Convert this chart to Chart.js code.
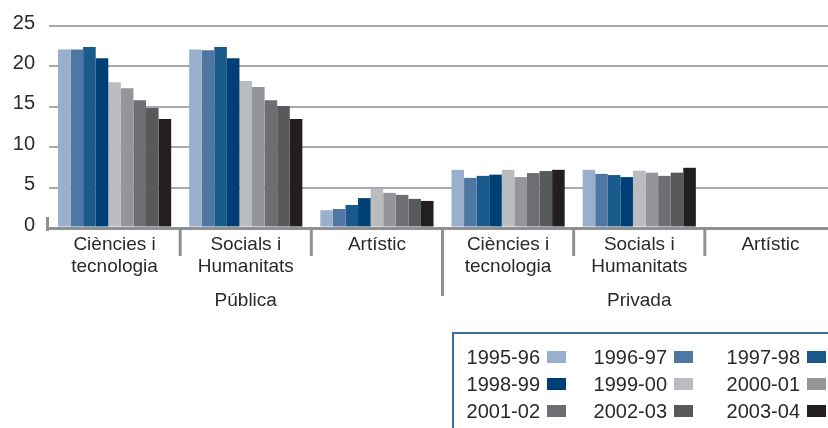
<!DOCTYPE html>
<html><head><meta charset="utf-8">
<script src="https://cdn.jsdelivr.net/npm/chart.js@4/dist/chart.umd.min.js"></script>
<style>html,body{margin:0;padding:0;background:#fff;overflow:hidden}#wrap{width:828px;height:428px;overflow:hidden;position:relative}</style>
</head><body><div id="wrap"><canvas id="c" width="842" height="428" style="width:842px;height:428px"></canvas></div>
<script>
const categories = [["Ciències i","tecnologia"],["Socials i","Humanitats"],"Artístic",["Ciències i","tecnologia"],["Socials i","Humanitats"],"Artístic"];
const groups = ["Pública","Privada"];
const years = ["1995-96","1996-97","1997-98","1998-99","1999-00","2000-01","2001-02","2002-03","2003-04"];
const colors = ["#9aafcc","#4e77a3","#1a5a8a","#003f75","#bbbcc0","#949598","#6d6e71","#58595b","#231f20"];
const v1995_96 = [22.1, 22.1, 2.2, 7.2, 7.2, null];
const v1996_97 = [22.1, 22.0, 2.35, 6.2, 6.7, null];
const v1997_98 = [22.4, 22.4, 2.85, 6.45, 6.55, null];
const v1998_99 = [21.0, 21.0, 3.7, 6.6, 6.3, null];
const v1999_00 = [18.05, 18.2, 4.85, 7.2, 7.1, null];
const v2000_01 = [17.3, 17.45, 4.35, 6.3, 6.85, null];
const v2001_02 = [15.8, 15.8, 4.1, 6.8, 6.45, null];
const v2002_03 = [14.85, 15.1, 3.6, 7.05, 6.85, null];
const v2003_04 = [13.5, 13.5, 3.35, 7.2, 7.45, null];
const yTicks = [0, 5, 10, 15, 20, 25];

const series = [v1995_96,v1996_97,v1997_98,v1998_99,v1999_00,v2000_01,v2001_02,v2002_03,v2003_04];
const FONT = "'Liberation Sans', Arial, sans-serif";
const TXT = "#2a2a2a";
const AXIS = "#8e9093";

const decor = {
  id: 'decor',
  afterDraw(chart) {
    const ctx = chart.ctx, x = chart.scales.x, a = chart.chartArea;
    const base = a.bottom;
    ctx.save();
    ctx.strokeStyle = AXIS; ctx.lineWidth = 3;
    // left stub
    ctx.beginPath(); ctx.moveTo(a.left - 1.5, base - 11); ctx.lineTo(a.left - 1.5, base + 1.5); ctx.lineTo(a.left, base + 1.5); ctx.stroke();
    // separators
    const n = categories.length;
    for (let i = 1; i < n; i++) {
      const px = (x.getPixelForTick(i - 1) + x.getPixelForTick(i)) / 2;
      const len = (i === 3) ? 68 : 28;
      ctx.beginPath(); ctx.moveTo(px, base); ctx.lineTo(px, base + len); ctx.stroke();
    }
    // group labels
    ctx.fillStyle = TXT; ctx.font = "19px " + FONT; ctx.textAlign = 'center'; ctx.textBaseline = 'middle';
    const g1 = (x.getPixelForTick(0) + x.getPixelForTick(2)) / 2;
    const g2 = (x.getPixelForTick(3) + x.getPixelForTick(5)) / 2;
    ctx.fillText(groups[0], g1, 301);
    ctx.fillText(groups[1], g2, 301);
    // legend box
    ctx.strokeStyle = "#3f6a9a"; ctx.lineWidth = 2;
    ctx.beginPath(); ctx.moveTo(453, 430); ctx.lineTo(453, 333); ctx.lineTo(830, 333); ctx.stroke();
    const sw = [547, 674, 807], ry = [357, 384, 411];
    ctx.textAlign = 'right'; ctx.font = "20px " + FONT;
    chart.data.datasets.forEach((d, i) => {
      const c = i % 3, r = Math.floor(i / 3);
      ctx.fillStyle = d.backgroundColor;
      ctx.fillRect(sw[c], ry[r] - 6, 19, 12);
      ctx.fillStyle = TXT;
      ctx.fillText(d.label, sw[c] - 7, ry[r] + 1);
    });
    ctx.restore();
  }
};

new Chart(document.getElementById('c'), {
  type: 'bar',
  data: {
    labels: categories,
    datasets: years.map((y, i) => ({ label: y, data: series[i], backgroundColor: colors[i], borderWidth: 0 }))
  },
  options: {
    responsive: false, animation: false, devicePixelRatio: 1,
    categoryPercentage: 0.863, barPercentage: 1.0,
    layout: { padding: { top: 26, right: 6, left: 0, bottom: 0 } },
    plugins: { legend: { display: false }, tooltip: { enabled: false } },
    scales: {
      x: {
        grid: { display: false, drawTicks: false }, border: { display: false },
        ticks: { color: TXT, font: { family: FONT, size: 19, lineHeight: 1.16 }, padding: 6, maxRotation: 0, autoSkip: false },
        afterFit(s) { s.height = 200; }
      },
      y: {
        min: 0, max: 25,
        afterBuildTicks(s) { s.ticks = yTicks.map(v => ({ value: v })); },
        grid: {
          drawTicks: false,
          color: c => c.tick && c.tick.value === 0 ? AXIS : '#a7a9ac',
          lineWidth: c => c.tick && c.tick.value === 0 ? 3 : 2
        },
        border: { display: false },
        ticks: { color: TXT, font: { family: FONT, size: 20 }, padding: 14, labelOffset: -3 },
        afterFit(s) { s.width = 49; }
      }
    }
  },
  plugins: [decor]
});
</script></body></html>
